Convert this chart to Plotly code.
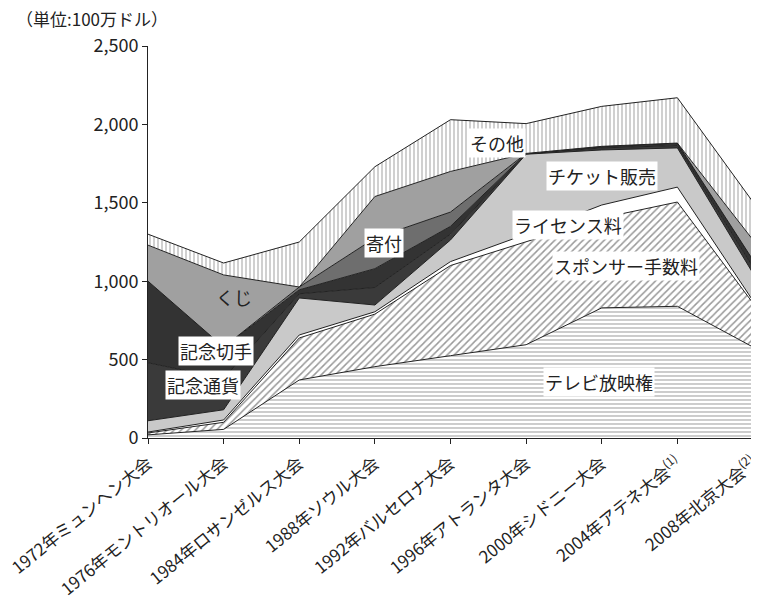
import plotly.graph_objects as go

games = ["1972年ミュンヘン大会", "1976年モントリオール大会", "1984年ロサンゼルス大会",
         "1988年ソウル大会", "1992年バルセロナ大会", "1996年アトランタ大会",
         "2000年シドニー大会", "2004年アテネ大会<sup>(1)</sup>", "2008年北京大会<sup>(2)</sup>"]

tv_rights = [20, 55, 370, 455, 525, 595, 830, 840, 580]
sponsor_fees = [12, 45, 268, 335, 575, 655, 573, 665, 280]
license_fees = [6, 15, 19, 15, 25, 50, 83, 95, 15]
ticket_sales = [72, 65, 236, 43, 138, 510, 351, 250, 175]
coins = [370, 200, 27, 112, 37, 2, 13, 15, 40]
stamps = [520, 200, 25, 120, 50, 3, 10, 16, 45]
donations = [0, 0, 18, 195, 91, 0, 0, 0, 0]
lottery = [230, 460, 0, 265, 259, 0, 0, 0, 128]
other = [70, 76, 287, 190, 330, 190, 255, 289, 242]

y_ticks = [0, 500, 1000, 1500, 2000, 2500]

FONT = "Noto Sans CJK JP"

series = [
    ("テレビ放映権", tv_rights, dict(color="white", pattern=dict(shape="-", fgcolor="#555", bgcolor="white", size=4, solidity=0.3))),
    ("スポンサー手数料", sponsor_fees, dict(color="white", pattern=dict(shape="/", fgcolor="#333", bgcolor="white", size=5, solidity=0.3))),
    ("ライセンス料", license_fees, dict(color="white")),
    ("チケット販売", ticket_sales, dict(color="#c9c9c9")),
    ("記念通貨", coins, dict(color="#3a3a3a")),
    ("記念切手", stamps, dict(color="#333333")),
    ("寄付", donations, dict(color="#6e6e6e")),
    ("くじ", lottery, dict(color="#a0a0a0")),
    ("その他", other, dict(color="white", pattern=dict(shape="|", fgcolor="#444", bgcolor="white", size=4, solidity=0.25))),
]

fig = go.Figure()
for name, vals, style in series:
    kw = dict(x=games, y=vals, name=name, mode="lines", stackgroup="one",
              line=dict(color="#222", width=1), fillcolor=style["color"])
    if "pattern" in style:
        kw["fillpattern"] = style["pattern"]
    fig.add_trace(go.Scatter(**kw))

labels = [
    ("その他", 4.61, 1881, True),
    ("チケット販売", 6.0, 1671, True),
    ("寄付", 3.12, 1244, True),
    ("ライセンス料", 5.55, 1358, True),
    ("スポンサー手数料", 6.32, 1097, True),
    ("くじ", 1.14, 899, False),
    ("記念切手", 0.90, 555, True),
    ("記念通貨", 0.73, 338, True),
    ("テレビ放映権", 5.96, 357, True),
]
for text, x, y, box in labels:
    fig.add_annotation(x=x, y=y, xref="x", yref="y", text=text, showarrow=False,
                       font=dict(family=FONT, size=18, color="#222"),
                       bgcolor="white" if box else None, borderpad=1)

fig.add_annotation(x=-0.222, y=1.071, xref="paper", yref="paper", text="（単位:100万ドル）",
                   showarrow=False, xanchor="left", yanchor="middle",
                   font=dict(family=FONT, size=17, color="#222"))

fig.update_layout(
    width=751, height=588,
    margin=dict(l=140, r=6, t=38, b=158),
    paper_bgcolor="white", plot_bgcolor="white",
    showlegend=False,
    font=dict(family=FONT, size=16, color="#222"),
    xaxis=dict(type="category", range=[0, 8], showgrid=False, zeroline=False,
               showline=True, linecolor="#222", linewidth=1,
               ticks="outside", ticklen=5, tickcolor="#222",
               tickangle=-39, tickfont=dict(family=FONT, size=17, color="#222"),
               ticklabelstandoff=3,
               automargin=False),
    yaxis=dict(range=[0, 2500], tickvals=y_ticks, tickformat=",", showgrid=False,
               zeroline=False, showline=True, linecolor="#222", linewidth=1,
               ticks="outside", ticklen=5, tickcolor="#222",
               tickfont=dict(family=FONT, size=18, color="#222"), automargin=False),
)

fig.write_html("out.html")
